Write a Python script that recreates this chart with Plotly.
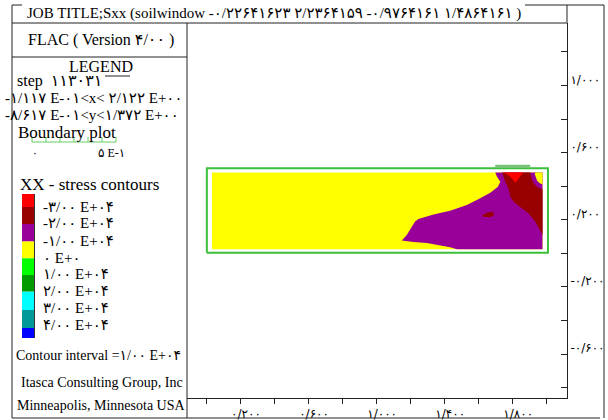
import plotly.graph_objects as go

# ---------------- data ----------------
# model boundary (m)
boundary_x = [0.005, 2.01, 2.01, 0.005, 0.005]
boundary_y = [0.004, 0.004, 0.507, 0.507, 0.004]
footing_x = [1.70, 1.906]
footing_y = [0.518, 0.518]

# contour fill regions (XX stress bands)
fill_x = [0.035, 1.978, 1.978, 0.035]
fill_y = [0.024, 0.024, 0.481, 0.481]

purple_x = [1.978, 1.475, 1.435, 1.390, 1.337, 1.298, 1.220, 1.151, 1.180, 1.204, 1.229, 1.249,
            1.337, 1.435, 1.533, 1.612, 1.671, 1.716, 1.730, 1.710, 1.700, 1.978]
purple_y = [0.024, 0.024, 0.036, 0.046, 0.056, 0.062, 0.068, 0.076, 0.109, 0.149, 0.189, 0.205,
            0.232, 0.254, 0.288, 0.328, 0.361, 0.397, 0.427, 0.457, 0.481, 0.481]

dkred_x = [1.739, 1.906, 1.912, 1.922, 1.945, 1.978, 1.978, 1.955, 1.935, 1.896, 1.847, 1.808,
           1.788, 1.779, 1.759, 1.749]
dkred_y = [0.481, 0.481, 0.455, 0.425, 0.395, 0.380, 0.109, 0.149, 0.189, 0.238, 0.278, 0.308,
           0.338, 0.381, 0.427, 0.457]

red_x = [1.747, 1.865, 1.850, 1.832, 1.818, 1.802, 1.775]
red_y = [0.481, 0.481, 0.462, 0.437, 0.419, 0.443, 0.468]

ypatch_x = [1.935, 1.978, 1.978, 1.962, 1.947, 1.938, 1.933]
ypatch_y = [0.481, 0.481, 0.412, 0.418, 0.432, 0.452, 0.470]

blob_x = [1.622, 1.651, 1.686, 1.694, 1.671, 1.631]
blob_y = [0.224, 0.242, 0.248, 0.228, 0.215, 0.218]

# contour legend
legend_colors = ["#FF0000", "#990000", "#990099", "#FFFF00", "#00FF00",
                 "#009900", "#00FFFF", "#009999", "#0000FF"]
legend_labels = ["-۳/۰۰ E+۰۴", "-۲/۰۰ E+۰۴", "-۱/۰۰ E+۰۴", "۰ E+۰",
                 "۱/۰۰ E+۰۴", "۲/۰۰ E+۰۴", "۳/۰۰ E+۰۴", "۴/۰۰ E+۰۴"]

# axes ticks
x_tickvals = [0.2, 0.6, 1.0, 1.4, 1.8]
x_ticktext = ["۰/۲۰۰", "۰/۶۰۰", "۱/۰۰۰", "۱/۴۰۰", "۱/۸۰۰"]
x_minor = [0.0, 0.4, 0.8, 1.2, 1.6, 2.0]
y_tickvals = [-0.6, -0.2, 0.2, 0.6, 1.0]
y_ticktext = ["-۰/۶۰۰", "-۰/۲۰۰", "۰/۲۰۰", "۰/۶۰۰", "۱/۰۰۰"]
y_minor = [-0.8, -0.4, 0.0, 0.4, 0.8, 1.2]
x_range = [-0.1117, 2.122]
y_range = [-0.8617, 1.372]

title_text = "JOB TITLE;Sxx (soilwindow -۰/۲۲۶۴۱۶۲۳ ۲/۲۳۶۴۱۵۹ -۰/۹۷۶۴۱۶۱ ۱/۴۸۶۴۱۶۱ )"

# ---------------- figure ----------------
W, H = 608, 420
L, R, T, B = 187, 567, 23, 398


def px(x):
    return (x - L) / (R - L)


def py(y):
    return (B - y) / (B - T)


fig = go.Figure()


def poly(xs, ys, color):
    fig.add_trace(go.Scatter(x=xs, y=ys, mode="lines", fill="toself", fillcolor=color,
                             line=dict(width=0, color=color), hoverinfo="skip", showlegend=False))


poly(fill_x, fill_y, "#FFFF00")
poly(purple_x, purple_y, "#990099")
poly(dkred_x, dkred_y, "#990000")
poly(red_x, red_y, "#FF0000")
poly(ypatch_x, ypatch_y, "#FFFF00")
poly(blob_x, blob_y, "#990000")

fig.add_trace(go.Scatter(x=boundary_x, y=boundary_y, mode="lines",
                         line=dict(color="#3cc03c", width=2), hoverinfo="skip", showlegend=False))
fig.add_trace(go.Scatter(x=footing_x, y=footing_y, mode="lines",
                         line=dict(color="#77c277", width=3), hoverinfo="skip", showlegend=False))

SERIF = "Liberation Serif, DejaVu Sans"
shapes = []


def hline(x0, x1, y, color="#222", w=1):
    shapes.append(dict(type="line", xref="paper", yref="paper", x0=px(x0), x1=px(x1),
                       y0=py(y), y1=py(y), line=dict(color=color, width=w)))


def vline(x, y0, y1, color="#222", w=1):
    shapes.append(dict(type="line", xref="paper", yref="paper", x0=px(x), x1=px(x),
                       y0=py(y0), y1=py(y1), line=dict(color=color, width=w)))


# frame
hline(12, 22, 5)
hline(525, 604, 5)
vline(604, 5, 418)
vline(12, 5, 418)
hline(12, 600, 418)
hline(12, 567, 23)
hline(12, 187, 57)
vline(187, 23, 418)
vline(567, 5, 23)
# LEGEND underline
hline(105, 130, 76, "#222", 1)
# scale bar
hline(32, 116, 142, "#66cc66", 1)
for i in range(7):
    xx = 32 + i * 14
    vline(xx, 142, 137, "#66cc66", 1)

# colour swatches
bounds = [194, 207, 224, 241.5, 258.3, 275, 291.7, 310, 328, 338]
for i, c in enumerate(legend_colors):
    shapes.append(dict(type="rect", xref="paper", yref="paper", x0=px(22), x1=px(34),
                       y0=py(bounds[i + 1]), y1=py(bounds[i]), fillcolor=c, line=dict(width=0)))
vline(34.5, 194, 338, "#333", 1)

annotations = []


def text(s, x, y, size, anchor="left", family=SERIF):
    annotations.append(dict(text=s, xref="paper", yref="paper", x=px(x), y=py(y),
                            xanchor=anchor, yanchor="middle", showarrow=False,
                            font=dict(family=family, size=size, color="black")))


text(title_text, 25, 14, 15)
text("FLAC ( Version ۴/۰۰ )", 101, 40, 16, "center")
text("LEGEND", 101, 67, 16, "center")
text("step  ۱۱۳۰۳۱", 15, 81, 16)
text("-۱/۱۱۷ E-۰۱<x< ۲/۱۲۲ E+۰۰", 3, 98, 15)
text("-۸/۶۱۷ E-۰۱<y<۱/۳۷۲ E+۰۰", 3, 115, 15)
text("Boundary plot", 16, 132, 17)
text("۰", 30, 153, 11)
text("۵ E-۱", 96, 153, 12)
text("XX - stress contours", 18, 184, 17)
label_y = [207, 223.5, 240.5, 257.5, 274, 291, 308, 325]
for lab, yy in zip(legend_labels, label_y):
    text(lab, 41, yy, 15)
text("Contour interval =۱/۰۰ E+۰۴", 14, 355, 14)
text("Itasca Consulting Group, Inc", 19, 382, 14)
text("Minneapolis, Minnesota USA", 15, 405, 14)

fig.update_layout(
    width=W, height=H, autosize=False, template="none",
    margin=dict(l=L, r=W - R, t=T, b=H - B, pad=0),
    paper_bgcolor="white", plot_bgcolor="white",
    showlegend=False,
    shapes=shapes, annotations=annotations,
    xaxis=dict(range=x_range, automargin=False, showgrid=False, zeroline=False, showline=True,
               linecolor="#222", linewidth=1, ticks="outside", ticklen=5, tickcolor="#222",
               tickvals=x_tickvals, ticktext=x_ticktext, ticklabelshift=6,
               tickfont=dict(family="DejaVu Sans", size=12, color="black"),
               minor=dict(tickvals=x_minor, ticks="outside", ticklen=5, tickcolor="#222"),
               fixedrange=True),
    yaxis=dict(range=y_range, automargin=False, side="right", showgrid=False, zeroline=False,
               showline=True, linecolor="#222", linewidth=1, ticks="inside", ticklen=6,
               tickcolor="#222", tickvals=y_tickvals, ticktext=y_ticktext, ticklabelshift=-6,
               tickfont=dict(family="DejaVu Sans", size=12, color="black"),
               minor=dict(tickvals=y_minor, ticks="inside", ticklen=6, tickcolor="#222"),
               fixedrange=True),
)

fig.write_html("out.html", config={"displayModeBar": False},
               post_script="document.body.style.margin='0';document.body.style.overflow='hidden';")
